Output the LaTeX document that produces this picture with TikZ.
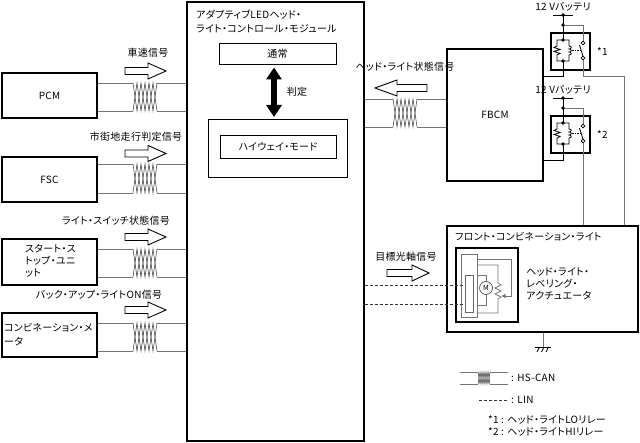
\documentclass[tikz,border=0pt]{standalone}
\usepackage{fontspec}
\setmainfont{Noto Sans CJK JP}[RawFeature=+palt, LetterSpace=3]
\usetikzlibrary{arrows.meta}
\tikzset{
 box/.style={draw=black, line width=1.3bp, inner sep=0pt, rectangle},
 thinbox/.style={draw=black, line width=0.8bp, inner sep=0pt, rectangle},
 wire/.style={draw=black!55, line width=0.8bp},
 dwire/.style={draw=black, line width=0.8bp},
 zz/.style={draw=black!80, line width=0.5bp},
 lbl/.style={inner sep=0pt},
 harrow/.style={draw=black, line width=0.9bp, fill=white, line join=miter},
 linwire/.style={draw=black!80, line width=0.8bp, dash pattern=on 3bp off 2bp},
 dot/.style={fill=black},
}
\newcommand\twpair[6]{%
 \draw[wire] (#1 |- 0,#3) -- ({#5-3*#6},#3) ({#5+3*#6},#3) -- (#2 |- 0,#3)
             (#1 |- 0,#4) -- ({#5-3*#6},#4) ({#5+3*#6},#4) -- (#2 |- 0,#4);
 \draw[zz] ({#5-3*#6},#3) -- ({#5-2*#6},#4) -- ({#5-1*#6},#3) -- (#5,#4)
   -- ({#5+1*#6},#3) -- ({#5+2*#6},#4) -- ({#5+3*#6},#3);
 \draw[zz] ({#5-3*#6},#4) -- ({#5-2*#6},#3) -- ({#5-1*#6},#4) -- (#5,#3)
   -- ({#5+1*#6},#4) -- ({#5+2*#6},#3) -- ({#5+3*#6},#4);
}
\newcommand\harr[4]{%
 \draw[harrow] (#1,#4-3.5) -- (#2,#4-3.5) -- (#2,#4-8) -- (#3,#4) -- (#2,#4+8) -- (#2,#4+3.5) -- (#1,#4+3.5) -- cycle;}
\newcommand\relaysym[3]{% y0, name, star label
 \node[lbl] at (563,#1-8) {12 Vバッテリ};
 \draw[dwire] (553,#1) -- (573,#1);
 \node[box, minimum width=39bp, minimum height=37bp] (#2) at (570.5,#1+36.5) {};
 \node[lbl, anchor=west] at (597,#1+37) {#3};
 \draw[dwire] (563,#1) -- (563,#1+25);
 \draw[wire] (563,#1+10) -- (583,#1+10) -- (583,#1+26.2);
 \draw[dwire] (563,#1+25) -- (557,#1+25) -- (557,#1+31) -- (554,#1+32.5) -- (560,#1+34.5) -- (554,#1+36.5) -- (560,#1+38.5) -- (557,#1+40) -- (557,#1+46) -- (569,#1+46) -- (569,#1+40)
   .. controls (572,#1+40) and (572,#1+37) .. (569,#1+37)
   .. controls (572,#1+37) and (572,#1+34) .. (569,#1+34)
   .. controls (572,#1+34) and (572,#1+31) .. (569,#1+31)
   -- (569,#1+25) -- (563,#1+25);
 \draw[black, line width=0.6bp, dash pattern=on 1.5bp off 1bp] (572,#1+35.5) -- (581,#1+35.5);
 \draw[dwire] (583,#1+41.2) -- (579.5,#1+30);
 \draw[black, line width=0.7bp, fill=white] (583,#1+28) circle[radius=1.8bp] (583,#1+43) circle[radius=1.8bp];
 \fill[dot] (563,#1) circle[radius=1.9bp] (563,#1+10) circle[radius=1.9bp] (563,#1+25) circle[radius=1.9bp] (563,#1+46) circle[radius=1.9bp];
}
\begin{document}
\begin{tikzpicture}[x=1bp, y=-1bp, font=\fontsize{10}{12}\selectfont]
\useasboundingbox (0,0) rectangle (640,443);

% left units
\node[box, minimum width=95bp, minimum height=45bp] (pcm) at (49.5,95.5) {PCM};
\node[box, minimum width=95bp, minimum height=45bp] (fsc) at (49.5,179.5) {FSC};
\node[box, minimum width=95bp, minimum height=46bp] (ssu) at (49.5,262) {};
\node[lbl, anchor=west] (ssu1) at (25,249) {スタート・ス};
\node[lbl, anchor=west] (ssu2) at (25,261) {トップ・ユニ};
\node[lbl, anchor=west] (ssu3) at (25,273) {ット};
\node[box, minimum width=95bp, minimum height=44bp] (cmu) at (49.5,335) {};
\node[lbl, anchor=west] (cmu1) at (4,328) {コンビネーション・メ};
\node[lbl, anchor=west] (cmu2) at (4,342) {ータ};

% central module
\node[box, minimum width=177bp, minimum height=439bp] (adlm) at (275.5,221.5) {};
\node[lbl, anchor=west] (t1) at (196,15) {アダプティブLEDヘッド・};
\node[lbl, anchor=west] (t2) at (196,29) {ライト・コントロール・モジュール};
\node[thinbox, minimum width=117bp, minimum height=21bp] (tsujo) at (277.5,53.5) {通常};
\node[thinbox, minimum width=139bp, minimum height=58bp] (hwo) at (277.5,148) {};
\node[thinbox, minimum width=116bp, minimum height=23bp] (hwi) at (278,146.5) {ハイウェイ・モード};
\coordinate (da1) at (274,67.5);
\coordinate (da2) at (274,117);
\draw[line width=6bp, {Triangle[width=15bp,length=12bp]}-{Triangle[width=15bp,length=12bp]}] (da1) -- (da2);
\node[lbl] (hantei) at (297,92) {判定};

% signals to module
\twpair{pcm.east}{adlm.west}{83}{111}{145}{4}
\twpair{fsc.east}{adlm.west}{164}{193}{145}{4}
\twpair{ssu.east}{adlm.west}{249}{277}{145}{4}
\twpair{cmu.east}{adlm.west}{323}{351}{145}{4}
\harr{125}{148}{166}{71}
\harr{125}{148}{166}{153.5}
\harr{125}{148}{166}{237}
\harr{125}{148}{166}{310}
\node[lbl] (s1) at (148,53) {車速信号};
\node[lbl] (s2) at (136,137) {市街地走行判定信号};
\node[lbl] (s3) at (116,221) {ライト・スイッチ状態信号};
\node[lbl] (s4) at (99,295) {バック・アップ・ライトON信号};

% FBCM
\node[box, minimum width=96bp, minimum height=132bp] (fbcm) at (495,115) {FBCM};
\twpair{adlm.east}{fbcm.west}{99}{127}{405}{4}
\harr{427}{397}{375}{88}
\node[lbl] (s5) at (405,67) {ヘッド・ライト状態信号};

% relays
\relaysym{15}{rly1}{*1}
\relaysym{98}{rly2}{*2}
\draw[dwire] (563,61) -- (563,76) -- (fbcm.east |- 0,76);
\draw[dwire] (563,144) -- (563,160) -- (fbcm.east |- 0,160);

% front combination light
\node[box, minimum width=191bp, minimum height=106bp] (fcl) at (542.5,279) {};
\node[lbl, anchor=west] (fclt) at (455,237) {フロント・コンビネーション・ライト};
\draw[wire] (583,59.8) -- (583,76) -- (624,76) -- (fcl.north -| 624,0);
\draw[wire] (583,142.8) -- (fcl.north -| 583,0);
\node[box, minimum width=62bp, minimum height=74bp] (act) at (487,285) {};
\draw[wire, line width=0.7bp] (461,254) rectangle (477,317);
\coordinate (actge) at (477,0);
\node[draw=black!60, line width=0.7bp, inner sep=0pt, minimum width=8bp, minimum height=37bp] (linr) at (469,293.5) {};
\draw[wire, line width=0.7bp, -{Triangle[length=4bp,width=4bp]}] (actge |- 0,259) -- (511,259) -- (511,296) -- (501.5,296);
\draw[wire, line width=0.7bp] (actge |- 0,265) -- (498,265) -- (498,283) -- (501,285) -- (495,288) -- (501,291) -- (495,294) -- (501,297) -- (498,299) -- (498,313) -- (actge |- 0,313);
\node[draw=black!70, line width=0.7bp, circle, minimum size=13bp, inner sep=0pt, font=\fontsize{7}{7}\selectfont] (mot) at (486,288) {M};
\draw[wire, line width=0.7bp] (actge |- 0,275) -- (486,275) -- (mot.north);
\draw[wire, line width=0.7bp] (mot.south) -- (486,305) -- (actge |- 0,305);
\node[lbl, anchor=west] (a1) at (526,272) {ヘッド・ライト・};
\node[lbl, anchor=west] (a2) at (526,284) {レベリング・};
\node[lbl, anchor=west] (a3) at (526,296) {アクチュエータ};
\node[lbl] (s6) at (406,257) {目標光軸信号};
\harr{387}{412}{429}{273}
\draw[linwire] (adlm.east |- 0,285) -- (linr.west |- 0,285);
\draw[linwire] (adlm.east |- 0,304) -- (linr.west |- 0,304);

% ground
\coordinate (gnd) at (543,347);
\draw[wire] (fcl.south -| gnd) -- (gnd);
\draw[black, line width=1bp] (535,347) -- (551,347);
\draw[black, line width=0.8bp] (539.5,347) -- (537,352) (544,347) -- (541.5,352) (548.5,347) -- (546,352);

% legend
\coordinate (lg1) at (460,0);
\coordinate (lg2) at (508,0);
\twpair{lg1}{lg2}{372}{384}{484}{2}
\coordinate (lg3) at (479,400);
\coordinate (lg4) at (508,400);
\draw[linwire] (lg3) -- (lg4);
\node[lbl, anchor=west] (l1) at (511,378) {: HS-CAN};
\node[lbl, anchor=west] (l2) at (511,400) {: LIN};
\node[lbl, anchor=west] (l3) at (488,420) {*1 : ヘッド・ライトLOリレー};
\node[lbl, anchor=west] (l4) at (488,432) {*2 : ヘッド・ライトHIリレー};
\end{tikzpicture}
\end{document}
